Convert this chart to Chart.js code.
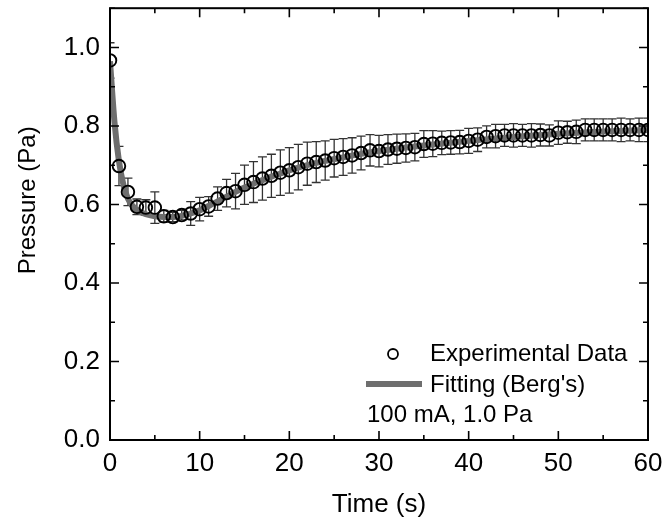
<!DOCTYPE html>
<html><head><meta charset="utf-8">
<script src="https://cdn.jsdelivr.net/npm/chart.js@4/dist/chart.umd.min.js"></script>
<style>html,body{margin:0;padding:0;background:#fff}#wrap{width:663px;height:527px}</style>
</head><body><div id="wrap"><canvas id="c" width="663" height="527"></canvas></div>
<script>
// ---- data ----
const times = [0,1,2,3,4,5,6,7,8,9,10,11,12,13,14,15,16,17,18,19,20,21,22,23,24,25,26,27,28,29,30,31,32,33,34,35,36,37,38,39,40,41,42,43,44,45,46,47,48,49,50,51,52,53,54,55,56,57,58,59,60];
const pressure = [0.967,0.698,0.632,0.594,0.592,0.592,0.570,0.568,0.573,0.577,0.588,0.595,0.615,0.629,0.634,0.650,0.657,0.666,0.673,0.681,0.687,0.695,0.704,0.708,0.712,0.718,0.721,0.725,0.731,0.738,0.736,0.740,0.742,0.744,0.746,0.754,0.755,0.757,0.758,0.759,0.762,0.765,0.772,0.774,0.776,0.776,0.776,0.776,0.777,0.776,0.783,0.784,0.785,0.790,0.790,0.790,0.790,0.790,0.790,0.790,0.790];
const pressureErr = [0.045,0.050,0.035,0.020,0.020,0.040,0.015,0.012,0.012,0.030,0.030,0.025,0.030,0.035,0.045,0.050,0.052,0.055,0.055,0.058,0.058,0.058,0.055,0.052,0.050,0.048,0.047,0.045,0.043,0.040,0.040,0.038,0.037,0.036,0.035,0.034,0.033,0.030,0.030,0.030,0.032,0.030,0.028,0.030,0.028,0.030,0.028,0.030,0.028,0.027,0.030,0.028,0.030,0.028,0.028,0.028,0.028,0.030,0.028,0.030,0.030];
const fitTimes = [0,0.5,1,1.5,2,2.5,3,4,5,6,7,8,9,10,11,12,13,14,15,16,17,18,19,20,22,24,26,28,30,33,36,40,45,50,55,60];
const fitPressure = [0.965,0.810,0.710,0.650,0.615,0.597,0.586,0.575,0.570,0.568,0.568,0.571,0.577,0.585,0.596,0.608,0.620,0.632,0.643,0.653,0.662,0.671,0.679,0.687,0.700,0.711,0.720,0.729,0.736,0.745,0.753,0.762,0.772,0.780,0.786,0.790];
const xTicks = [0,10,20,30,40,50,60];
const xMinorTicks = [5,15,25,35,45,55];
const yTicks = [0.0,0.2,0.4,0.6,0.8,1.0];
const yMinorTicks = [0.1,0.3,0.5,0.7,0.9,1.1];
const legendLabels = ["Experimental Data", "Fitting (Berg's)"];
const noteText = "100 mA, 1.0 Pa";
const xTitle = "Time (s)";
const yTitle = "Pressure (Pa)";

const FONT = "'Liberation Sans', Arial, sans-serif";
const FIT_COLOR = '#6e6e6e';

const errorBars = {
  id: 'errorBars',
  beforeDatasetsDraw(chart) {
    const ctx = chart.ctx, xs = chart.scales.x, ys = chart.scales.y, a = chart.chartArea;
    ctx.save();
    ctx.beginPath(); ctx.rect(a.left, a.top, a.right - a.left, a.bottom - a.top); ctx.clip();
    ctx.strokeStyle = '#333'; ctx.lineWidth = 1.3;
    times.forEach((t, i) => {
      const x = xs.getPixelForValue(t);
      const y1 = ys.getPixelForValue(pressure[i] + pressureErr[i]);
      const y2 = ys.getPixelForValue(pressure[i] - pressureErr[i]);
      ctx.beginPath();
      ctx.moveTo(x, y1); ctx.lineTo(x, y2);
      ctx.moveTo(x - 4.5, y1); ctx.lineTo(x + 4.5, y1);
      ctx.moveTo(x - 4.5, y2); ctx.lineTo(x + 4.5, y2);
      ctx.stroke();
    });
    ctx.restore();
  }
};

const frameAndDecor = {
  id: 'frameAndDecor',
  afterDraw(chart) {
    const ctx = chart.ctx, xs = chart.scales.x, ys = chart.scales.y, a = chart.chartArea;
    ctx.save();
    ctx.strokeStyle = '#000';
    ctx.lineWidth = 2;
    ctx.strokeRect(a.left, a.top, a.right - a.left, a.bottom - a.top);
    ctx.lineWidth = 1.6;
    const drawX = (v, len) => {
      const x = xs.getPixelForValue(v);
      ctx.beginPath();
      ctx.moveTo(x, a.bottom); ctx.lineTo(x, a.bottom - len);
      ctx.moveTo(x, a.top); ctx.lineTo(x, a.top + len);
      ctx.stroke();
    };
    const drawY = (v, len) => {
      const y = ys.getPixelForValue(v);
      ctx.beginPath();
      ctx.moveTo(a.left, y); ctx.lineTo(a.left + len, y);
      ctx.moveTo(a.right, y); ctx.lineTo(a.right - len, y);
      ctx.stroke();
    };
    xTicks.forEach(v => drawX(v, 9));
    xMinorTicks.forEach(v => drawX(v, 5));
    yTicks.forEach(v => drawY(v, 9));
    yMinorTicks.forEach(v => drawY(v, 5));

    // y-axis title
    ctx.fillStyle = '#000';
    ctx.font = '24px ' + FONT;
    ctx.textAlign = 'center'; ctx.textBaseline = 'middle';
    ctx.save();
    ctx.translate(28, a.top + (a.bottom - a.top) * 0.445);
    ctx.rotate(-Math.PI / 2);
    ctx.fillText(yTitle, 0, 0);
    ctx.restore();

    // legend
    const ds0 = chart.data.datasets[1], ds1 = chart.data.datasets[0];
    ctx.font = '24px ' + FONT;
    ctx.textAlign = 'left'; ctx.textBaseline = 'middle';
    ctx.beginPath();
    ctx.arc(393, 354, 5, 0, Math.PI * 2);
    ctx.strokeStyle = ds0.pointBorderColor; ctx.lineWidth = 1.8; ctx.stroke();
    ctx.fillText(legendLabels[0], 430, 354);
    ctx.beginPath();
    ctx.moveTo(366, 384); ctx.lineTo(422, 384);
    ctx.strokeStyle = ds1.borderColor; ctx.lineWidth = 6; ctx.stroke();
    ctx.fillText(legendLabels[1], 430, 385);
    ctx.fillText(noteText, 367, 415);
    ctx.restore();
  }
};

new Chart(document.getElementById('c'), {
  type: 'scatter',
  data: {
    datasets: [
      {
        label: legendLabels[1],
        data: fitTimes.map((t, i) => ({x: t, y: fitPressure[i]})),
        showLine: true,
        borderColor: FIT_COLOR,
        borderWidth: 6,
        pointRadius: 0,
        cubicInterpolationMode: 'monotone',
        clip: 0,
        order: 2
      },
      {
        label: legendLabels[0],
        data: times.map((t, i) => ({x: t, y: pressure[i]})),
        showLine: false,
        pointRadius: 6.3,
        pointBorderWidth: 1.9,
        pointBorderColor: '#000',
        pointBackgroundColor: 'rgba(0,0,0,0)',
        clip: 0,
        order: 1
      }
    ]
  },
  options: {
    responsive: false,
    animation: false,
    devicePixelRatio: 1,
    layout: {padding: {top: 8, right: 15, left: 0, bottom: 0}},
    plugins: {legend: {display: false}, tooltip: {enabled: false}},
    scales: {
      x: {
        type: 'linear', min: 0, max: 60,
        afterBuildTicks: s => { s.ticks = xTicks.map(v => ({value: v})); },
        afterFit: s => { s.height = 87; s.paddingLeft = 0; s.paddingRight = 0; },
        grid: {display: false, drawTicks: false},
        border: {display: false},
        ticks: {color: '#000', font: {family: FONT, size: 26}, padding: 8, maxRotation: 0, autoSkip: false},
        title: {display: true, text: xTitle, color: '#000', font: {family: FONT, size: 26}, padding: {top: 0, bottom: 7}}
      },
      y: {
        type: 'linear', min: 0, max: 1.1,
        afterBuildTicks: s => { s.ticks = yTicks.map(v => ({value: v})); },
        afterFit: s => { s.width = 110; s.paddingTop = 0; s.paddingBottom = 0; },
        grid: {display: false, drawTicks: false},
        border: {display: false},
        ticks: {color: '#000', font: {family: FONT, size: 26}, padding: 10, callback: v => Number(v).toFixed(1), autoSkip: false}
      }
    }
  },
  plugins: [errorBars, frameAndDecor]
});
</script>
</body></html>
